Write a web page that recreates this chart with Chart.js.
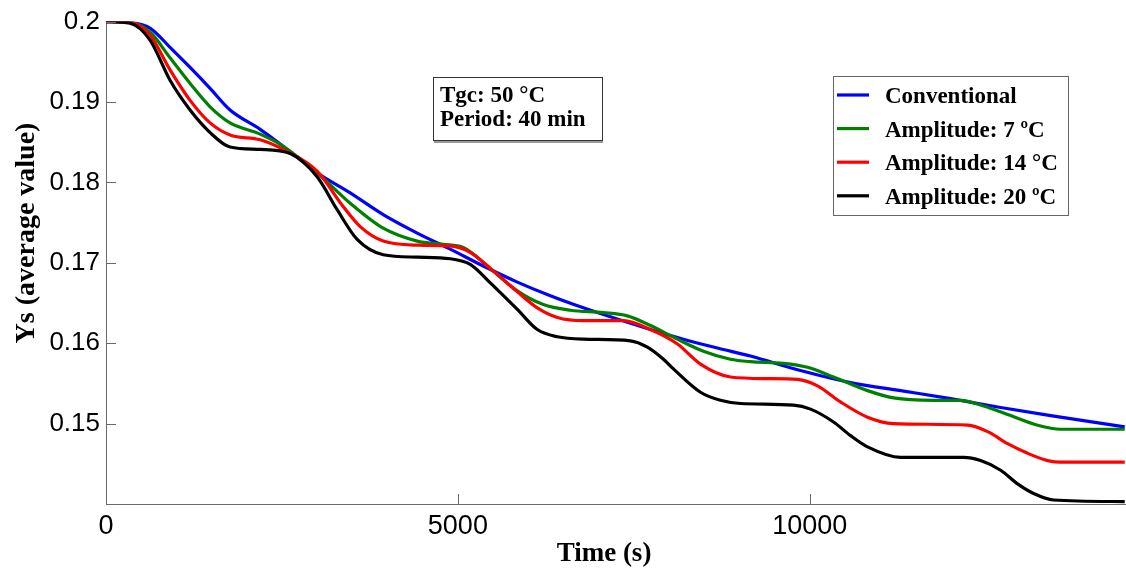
<!DOCTYPE html>
<html>
<head>
<meta charset="utf-8">
<script src="https://cdn.jsdelivr.net/npm/chart.js@4"></script>
<style>
html,body{margin:0;padding:0;background:#fff;}
#wrap{position:relative;width:1126px;height:573px;}
</style>
</head>
<body>
<div id="wrap"><canvas id="c" width="1126" height="573"></canvas></div>
<script>
// ---- data ----
const seriesLabels = ['Conventional', 'Amplitude: 7 ºC', 'Amplitude: 14 °C', 'Amplitude: 20 ºC'];

const convTime = [0, 341, 626, 910, 1195, 1479, 1763, 2190, 2517, 3000, 3470, 3939, 4422, 4892, 5361, 5845, 6314, 6783, 7266, 7736, 8205, 8689, 9157, 9868, 10580, 11291, 12002, 12713, 13424, 14476];
const convYs = [0.2, 0.1999, 0.1992, 0.1968, 0.1943, 0.1917, 0.1890, 0.1866, 0.1845, 0.1812, 0.1787, 0.1760, 0.1737, 0.1717, 0.1696, 0.1676, 0.1659, 0.1644, 0.1630, 0.1617, 0.1605, 0.1594, 0.1584, 0.1566, 0.1551, 0.1541, 0.1531, 0.1520, 0.1510, 0.1496];

const amp7Time = [0, 341, 626, 910, 1195, 1479, 1763, 2190, 2517, 3000, 3470, 3939, 4422, 4792, 5077, 5461, 5845, 6214, 6598, 7068, 7408, 7736, 8120, 8490, 8873, 9157, 9627, 9968, 10338, 10821, 11191, 11760, 12145, 12471, 12855, 13239, 13566, 14476];
const amp7Ys = [0.2, 0.1999, 0.1987, 0.1955, 0.1923, 0.1894, 0.1874, 0.1860, 0.1845, 0.1812, 0.1774, 0.1743, 0.1727, 0.1723, 0.1719, 0.1693, 0.1665, 0.1648, 0.1641, 0.1638, 0.1634, 0.1622, 0.1605, 0.1590, 0.1580, 0.1577, 0.1575, 0.1570, 0.1558, 0.1541, 0.1532, 0.1529, 0.1529, 0.1522, 0.1510, 0.1498, 0.1493, 0.1493];

const amp14Time = [0, 341, 626, 910, 1195, 1479, 1763, 2190, 2517, 3000, 3370, 3612, 3939, 4422, 4892, 5176, 5461, 5845, 6129, 6414, 6783, 7352, 7736, 8120, 8447, 8873, 9399, 9826, 10110, 10437, 10821, 11191, 12244, 12528, 12812, 13097, 13381, 13566, 14476];
const amp14Ys = [0.2, 0.1999, 0.1983, 0.1940, 0.1902, 0.1874, 0.1859, 0.1853, 0.1841, 0.1814, 0.1770, 0.1745, 0.1727, 0.1722, 0.1721, 0.1713, 0.1693, 0.1664, 0.1644, 0.1632, 0.1628, 0.1628, 0.1617, 0.1599, 0.1574, 0.1558, 0.1556, 0.1555, 0.1547, 0.1527, 0.1508, 0.1500, 0.1498, 0.1490, 0.1475, 0.1463, 0.1454, 0.1452, 0.1452];

const amp20Time = [0, 341, 626, 910, 1195, 1479, 1763, 2190, 2617, 3000, 3285, 3569, 3939, 4422, 4892, 5176, 5461, 5845, 6129, 6414, 6783, 7452, 7693, 7921, 8063, 8447, 8731, 9016, 9769, 10011, 10338, 10580, 10821, 11291, 12187, 12428, 12713, 12954, 13182, 13466, 14476];
const amp20Ys = [0.2, 0.1998, 0.1977, 0.1927, 0.1890, 0.1862, 0.1844, 0.1841, 0.1836, 0.1807, 0.1766, 0.1729, 0.1710, 0.1707, 0.1705, 0.1698, 0.1675, 0.1642, 0.1617, 0.1608, 0.1605, 0.1603, 0.1595, 0.1580, 0.1568, 0.1539, 0.1529, 0.1525, 0.1523, 0.1518, 0.1502, 0.1485, 0.1471, 0.1458, 0.1458, 0.1454, 0.1442, 0.1425, 0.1413, 0.1405, 0.1403];

const xTicks = [0, 5000, 10000];
const yTicks = [0.15, 0.16, 0.17, 0.18, 0.19, 0.2];
const xTitle = 'Time (s)';
const yTitle = 'Ys (average value)';
const noteLines = ['Tgc: 50 °C', 'Period: 40 min'];

// ---- build chart ----
const colors = ['#0000ff', '#008000', '#ff0000', '#000000'];
const times = [convTime, amp7Time, amp14Time, amp20Time];
const vals = [convYs, amp7Ys, amp14Ys, amp20Ys];

const datasets = seriesLabels.map((lab, i) => ({
  label: lab,
  data: times[i].map((t, k) => ({x: t, y: vals[i][k]})),
  borderColor: colors[i],
  backgroundColor: colors[i],
  borderWidth: 3.2,
  pointRadius: 0,
  cubicInterpolationMode: 'monotone',
  fill: false,
  order: 4 - i
}));

const AXIS_COLOR = '#6a6a6a';

const decor = {
  id: 'decor',
  afterDraw(chart) {
    const ctx = chart.ctx;
    const xs = chart.scales.x, ys = chart.scales.y;
    const ca = chart.chartArea;
    ctx.save();
    // inward ticks
    ctx.strokeStyle = AXIS_COLOR;
    ctx.lineWidth = 1;
    yTicks.forEach(v => {
      const py = Math.round(ys.getPixelForValue(v)) + 0.5;
      ctx.beginPath(); ctx.moveTo(ca.left, py); ctx.lineTo(ca.left + 10, py); ctx.stroke();
    });
    xTicks.forEach(v => {
      const px = Math.round(xs.getPixelForValue(v)) + 0.5;
      ctx.beginPath(); ctx.moveTo(px, ca.bottom); ctx.lineTo(px, ca.bottom - 10); ctx.stroke();
    });
    // axis titles
    ctx.fillStyle = '#000';
    ctx.font = 'bold 27px "Liberation Serif", "Times New Roman", serif';
    ctx.textAlign = 'center';
    ctx.textBaseline = 'middle';
    ctx.fillText(xTitle, 604, 554);
    ctx.save();
    ctx.translate(27, 233);
    ctx.rotate(-Math.PI / 2);
    ctx.font = 'bold 28px "Liberation Serif", "Times New Roman", serif';
    ctx.fillText(yTitle, 0, 0);
    ctx.restore();

    // note box
    ctx.fillStyle = '#fff';
    ctx.fillRect(433, 77, 169, 64);
    ctx.strokeStyle = '#333';
    ctx.lineWidth = 1;
    ctx.strokeRect(433.5, 77.5, 169, 63);
    ctx.strokeStyle = '#999';
    ctx.lineWidth = 2;
    ctx.beginPath(); ctx.moveTo(434, 142); ctx.lineTo(603, 142); ctx.stroke();
    ctx.fillStyle = '#000';
    ctx.font = 'bold 23px "Liberation Serif", "Times New Roman", serif';
    ctx.textAlign = 'left';
    ctx.textBaseline = 'alphabetic';
    ctx.fillText(noteLines[0], 440, 102);
    ctx.fillText(noteLines[1], 440, 126);

    // legend
    ctx.fillStyle = '#fff';
    ctx.fillRect(833, 76, 235, 139);
    ctx.strokeStyle = '#666';
    ctx.lineWidth = 1;
    ctx.strokeRect(833.5, 76.5, 235, 139);
    chart.data.datasets.forEach((ds, i) => {
      const y = 95 + i * 33.6;
      ctx.strokeStyle = ds.borderColor;
      ctx.lineWidth = 3.2;
      ctx.beginPath(); ctx.moveTo(837, y); ctx.lineTo(869, y); ctx.stroke();
      ctx.fillStyle = '#000';
      ctx.font = 'bold 23px "Liberation Serif", "Times New Roman", serif';
      ctx.textBaseline = 'alphabetic';
      ctx.fillText(ds.label, 885, y + 8);
    });
    ctx.restore();
  }
};

new Chart(document.getElementById('c'), {
  type: 'line',
  data: {datasets},
  options: {
    responsive: false,
    animation: false,
    events: [],
    layout: {padding: {left: 0, right: 1, top: 21, bottom: 0}},
    plugins: {legend: {display: false}, tooltip: {enabled: false}},
    scales: {
      x: {
        type: 'linear',
        min: 0,
        max: 14480,
        afterBuildTicks: s => { s.ticks = xTicks.map(v => ({value: v})); },
        afterFit: s => { s.height = 69; },
        grid: {display: false, drawTicks: false},
        border: {display: true, color: AXIS_COLOR, width: 1},
        ticks: {
          color: '#000',
          padding: 6,
          maxRotation: 0,
          font: {family: '"Liberation Sans", Arial, sans-serif', size: 27},
          callback: v => String(v)
        }
      },
      y: {
        type: 'linear',
        min: 0.14,
        max: 0.2,
        afterBuildTicks: s => { s.ticks = yTicks.map(v => ({value: v})); },
        afterFit: s => { s.width = 106; },
        grid: {display: false, drawTicks: false},
        border: {display: true, color: AXIS_COLOR, width: 1},
        ticks: {
          color: '#000',
          padding: 6,
          font: {family: '"Liberation Sans", Arial, sans-serif', size: 26},
          callback: v => String(Number(v.toFixed(2)))
        }
      }
    }
  },
  plugins: [decor]
});
</script>
</body>
</html>
